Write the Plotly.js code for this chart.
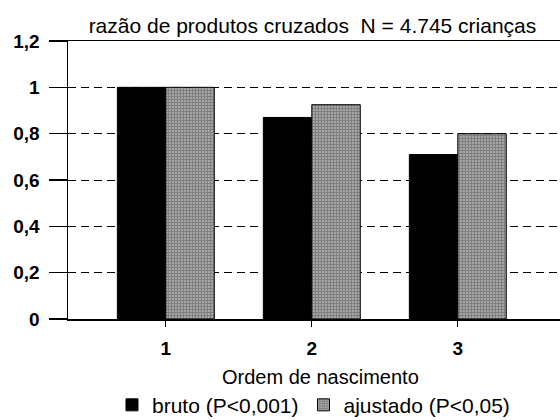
<!DOCTYPE html>
<html>
<head>
<meta charset="utf-8">
<script src="https://cdn.plot.ly/plotly-3.0.1.min.js"></script>
<style>html,body{margin:0;padding:0;background:#fff;}#chart{width:560px;height:420px;}</style>
</head>
<body>
<div id="chart"></div>
<script>
const categories = [1, 2, 3];
const categoryLabels = ["1", "2", "3"];
const bruto = [1.0, 0.87, 0.71];
const ajustado = [1.0, 0.925, 0.80];
const seriesNames = ["bruto (P<0,001)", "ajustado (P<0,05)"];
const yTickVals = [0, 0.2, 0.4, 0.6, 0.8, 1.0, 1.2];
const yTickText = ["0", "0,2", "0,4", "0,6", "0,8", "1", "1,2"];
const titleText = "razão de produtos cruzados&nbsp; N = 4.745 crianças";
const xTitleText = "Ordem de nascimento";

const FONT = "Liberation Sans, Arial, sans-serif";

const traces = [
  {
    type: "bar", x: categories, y: bruto, name: seriesNames[0],
    marker: {color: "#000", line: {color: "#000", width: 1}},
    hoverinfo: "skip"
  },
  {
    type: "bar", x: categories, y: ajustado, name: seriesNames[1],
    marker: {
      color: "#fff",
      line: {color: "#000", width: 1},
      pattern: {shape: ".", fgcolor: "#000", bgcolor: "#fff", size: 3, solidity: 0.8, fillmode: "overlay"}
    },
    hoverinfo: "skip"
  }
];

const layout = {
  width: 560, height: 420,
  margin: {l: 68, r: 0, t: 41, b: 101, autoexpand: false},
  paper_bgcolor: "#fff", plot_bgcolor: "#fff",
  font: {family: FONT, color: "#000", size: 20},
  barmode: "group", bargap: 0.336, bargroupgap: 0,
  title: {
    text: titleText, font: {family: FONT, size: 21, color: "#000"},
    x: 0.558, xanchor: "center", y: 1 - 26/420, yanchor: "middle", yref: "container"
  },
  xaxis: {
    range: [0.33, 3.70],
    tickvals: categories, ticktext: categoryLabels,
    ticks: "outside", ticklen: 6, tickwidth: 1, tickcolor: "#000",
    ticklabelstandoff: 6,
    tickfont: {family: FONT, size: 19, color: "#000", weight: "bold"},
    showline: true, linecolor: "#000", linewidth: 1.5, mirror: true,
    showgrid: false, zeroline: false, fixedrange: true
  },
  yaxis: {
    range: [0, 1.2],
    tickvals: yTickVals, ticktext: yTickText,
    ticks: "outside", ticklen: 18, tickwidth: 1.5, tickcolor: "#000",
    ticklabelstandoff: 5,
    tickfont: {family: FONT, size: 19, color: "#000", weight: "bold"},
    showline: true, linecolor: "#000", linewidth: 1.5,
    showgrid: true, gridcolor: "#000", gridwidth: 1, griddash: "8px,5px",
    zeroline: false, fixedrange: true
  },
  annotations: [
    {
      text: xTitleText, xref: "paper", yref: "paper",
      x: 0.514, y: -0.207, xanchor: "center", yanchor: "middle",
      showarrow: false, font: {family: FONT, size: 20, color: "#000"}
    }
  ],
  showlegend: true,
  legend: {
    orientation: "h", x: 0.0894, xanchor: "left", y: -0.31, yanchor: "middle",
    font: {family: FONT, size: 21, color: "#000"}, itemgap: 22,
    bgcolor: "rgba(0,0,0,0)", itemclick: false, itemdoubleclick: false
  }
};

Plotly.newPlot("chart", traces, layout, {displayModeBar: false, staticPlot: true});
</script>
</body>
</html>
